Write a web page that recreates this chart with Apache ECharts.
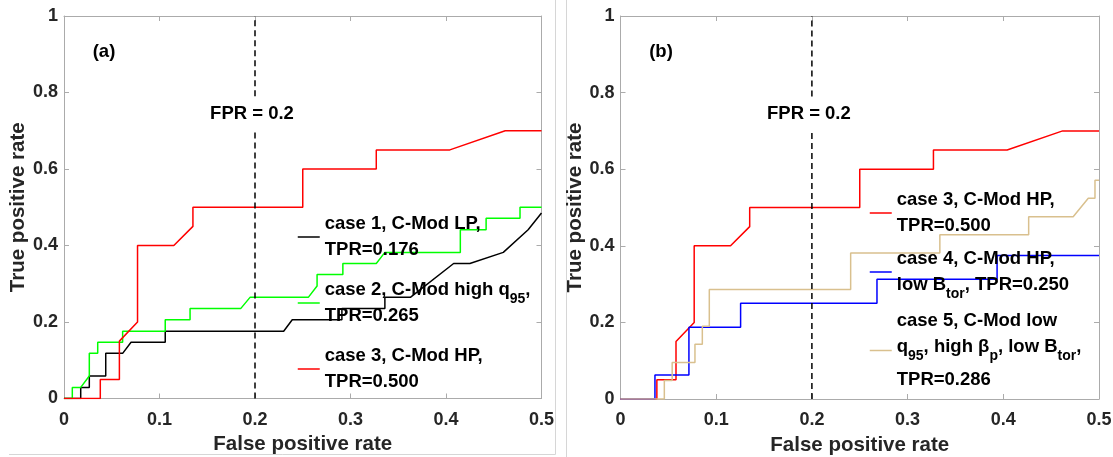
<!DOCTYPE html>
<html>
<head>
<meta charset="utf-8">
<script src="https://cdn.jsdelivr.net/npm/echarts@6/dist/echarts.min.js"></script>
<style>
  html, body { margin: 0; padding: 0; background: #ffffff; }
  #chart { width: 1113px; height: 457px; }
</style>
</head>
<body>
<div id="chart"></div>
<script>
// ROC curves as [false positive rate, true positive rate] vertices
const case1 = [[0,0],[0.0175,0],[0.0175,0.029],[0.0265,0.029],[0.0265,0.059],[0.0437,0.059],[0.0437,0.118],
  [0.0614,0.118],[0.0702,0.147],[0.106,0.147],[0.106,0.176],[0.230,0.176],[0.239,0.206],[0.291,0.206],
  [0.291,0.235],[0.336,0.235],[0.336,0.265],[0.363,0.265],[0.408,0.353],[0.425,0.353],[0.460,0.382],
  [0.486,0.441],[0.5,0.485]];
const case2 = [[0,0],[0.0087,0],[0.0087,0.029],[0.0175,0.029],[0.0265,0.059],[0.0265,0.118],[0.0353,0.118],
  [0.0353,0.147],[0.0614,0.147],[0.0614,0.176],[0.106,0.176],[0.106,0.206],[0.132,0.206],[0.132,0.235],
  [0.185,0.235],[0.195,0.265],[0.256,0.265],[0.265,0.294],[0.265,0.324],[0.292,0.324],[0.292,0.353],
  [0.327,0.353],[0.336,0.382],[0.415,0.382],[0.415,0.441],[0.442,0.441],[0.442,0.471],[0.4775,0.471],
  [0.4775,0.5],[0.5,0.5]];
const case3 = [[0,0],[0.038,0],[0.038,0.05],[0.058,0.05],[0.058,0.15],[0.077,0.2],[0.077,0.4],[0.115,0.4],
  [0.135,0.45],[0.135,0.5],[0.25,0.5],[0.25,0.6],[0.327,0.6],[0.327,0.65],[0.404,0.65],[0.462,0.7],[0.5,0.7]];
const case4 = [[0,0],[0.036,0],[0.036,0.0625],[0.0715,0.0625],[0.0715,0.1875],[0.1255,0.1875],[0.1255,0.25],
  [0.268,0.25],[0.268,0.3125],[0.3935,0.3125],[0.3935,0.375],[0.5,0.375]];
const case5 = [[0,0],[0.0458,0],[0.0458,0.048],[0.054,0.048],[0.054,0.095],[0.0778,0.095],[0.0778,0.143],
  [0.0855,0.143],[0.0855,0.19],[0.0928,0.19],[0.0928,0.286],[0.2405,0.286],[0.2405,0.381],[0.3337,0.381],
  [0.3337,0.429],[0.4265,0.429],[0.4265,0.476],[0.473,0.476],[0.4888,0.524],[0.4958,0.524],[0.4958,0.571],
  [0.5,0.571]];

// Tick labels and the FPR operating point
const xTicks = ['0', '0.1', '0.2', '0.3', '0.4', '0.5'];
const yTicks = ['0', '0.2', '0.4', '0.6', '0.8', '1'];
const fprCut = 0.2;

const caseText = {
  'case 1': 'case 1, C-Mod LP,\nTPR={v}',
  'case 2': 'case 2, C-Mod high q{sub|95},\nTPR={v}',
  'case 3': 'case 3, C-Mod HP,\nTPR={v}',
  'case 4': 'case 4, C-Mod HP,\nlow B{sub|tor}, TPR={v}',
  'case 5': 'case 5, C-Mod low\nq{sub|95}, high β{sub|p}, low B{sub|tor},\n{l3|TPR={v}}'
};
const curves = { 'case 1': case1, 'case 2': case2, 'case 3': case3, 'case 4': case4, 'case 5': case5 };
const colors = { 'case 1': '#000000', 'case 2': '#00ff00', 'case 3': '#ff0000', 'case 4': '#0000ff', 'case 5': '#d9c08e' };

function tprAt(curve, x) {
  let y = curve[0][1];
  for (let i = 1; i < curve.length; i++) {
    const a = curve[i - 1], b = curve[i];
    if (b[0] > x) {
      if (a[0] <= x) y = a[1] + (b[1] - a[1]) * (x - a[0]) / (b[0] - a[0]);
      break;
    }
    y = b[1];
  }
  return y;
}
function legendLabel(name) {
  return caseText[name].replace('{v}', tprAt(curves[name], fprCut).toFixed(3));
}

const FONT = "'Liberation Sans', Arial, Helvetica, sans-serif";
const FRAME = '#ababab';
const grids = [
  { left: 64, top: 16, width: 477.5, height: 382.5, outerBoundsMode: 'none', containLabel: false },
  { left: 620.5, top: 16, width: 478.5, height: 383, outerBoundsMode: 'none', containLabel: false }
];

function xAxisPair(g) {
  const base = {
    gridIndex: g, type: 'value', min: 0, max: 0.5, interval: 0.1,
    axisLine: { show: true, onZero: false, lineStyle: { color: FRAME, width: 1 } },
    axisTick: { show: true, inside: true, length: 5, lineStyle: { color: FRAME } },
    splitLine: { show: false }
  };
  return [
    Object.assign({}, base, {
      position: 'bottom',
      axisLabel: { margin: 12.5, fontSize: 18, fontWeight: 'bold', color: '#262626', fontFamily: FONT,
        formatter: (v) => xTicks[Math.round(v * 10)] },
      name: 'False positive rate', nameLocation: 'middle', nameGap: 27.5,
      nameTextStyle: { fontSize: 20.5, fontWeight: 'bold', color: '#262626', fontFamily: FONT }
    }),
    Object.assign({}, base, { position: 'top', axisLabel: { show: false } })
  ];
}
function yAxisPair(g) {
  const base = {
    gridIndex: g, type: 'value', min: 0, max: 1, interval: 0.2,
    axisLine: { show: true, onZero: false, lineStyle: { color: FRAME, width: 1 } },
    axisTick: { show: true, inside: true, length: 5, lineStyle: { color: FRAME } },
    splitLine: { show: false }
  };
  return [
    Object.assign({}, base, {
      position: 'left',
      axisLabel: { margin: 6, fontSize: 18, fontWeight: 'bold', color: '#262626', fontFamily: FONT,
        formatter: (v) => yTicks[Math.round(v * 5)] },
      name: 'True positive rate', nameLocation: 'middle', nameGap: 31,
      nameTextStyle: { fontSize: 20.5, fontWeight: 'bold', color: '#262626', fontFamily: FONT }
    }),
    Object.assign({}, base, { position: 'right', axisLabel: { show: false } })
  ];
}

function curveSeries(name, g) {
  return {
    type: 'line', name: name, xAxisIndex: g * 2, yAxisIndex: g * 2,
    data: curves[name], symbol: 'none', clip: true,
    lineStyle: { color: colors[name], width: 1.5 },
    itemStyle: { color: colors[name] },
    emphasis: { disabled: true }
  };
}
// dashed marker at FPR = 0.2, broken where its caption sits
function cutSeries(g) {
  return {
    type: 'line', xAxisIndex: g * 2, yAxisIndex: g * 2, symbol: 'none',
    data: [[fprCut, 0], [fprCut, 0.70], [fprCut, '-'], [fprCut, 0.79], [fprCut, 1]],
    lineStyle: { color: '#000000', width: 1.5, type: [6, 4] },
    emphasis: { disabled: true }, z: 5
  };
}

const legendText = {
  fontSize: 18.5, fontWeight: 'bold', color: '#000000', fontFamily: FONT, lineHeight: 26,
  rich: {
    sub: { fontSize: 14, fontWeight: 'bold', fontFamily: FONT, color: '#000000', padding: [18, 0, 0, 0] },
    l3: { fontSize: 18.5, fontWeight: 'bold', fontFamily: FONT, color: '#000000', lineHeight: 33, padding: [6, 0, 0, 0] }
  }
};
function legendFor(name, left, top) {
  return {
    data: [name], left: left, top: top, padding: 0, itemWidth: 22, itemHeight: 10,
    selectedMode: false, formatter: legendLabel, textStyle: legendText,
    lineStyle: { width: 1.5 },
    itemStyle: { opacity: 0, borderWidth: 0 }
  };
}

const chart = echarts.init(document.getElementById('chart'), null, { renderer: 'canvas' });
chart.setOption({
  animation: false,
  backgroundColor: '#ffffff',
  grid: grids,
  xAxis: [...xAxisPair(0), ...xAxisPair(1)],
  yAxis: [...yAxisPair(0), ...yAxisPair(1)],
  legend: [
    legendFor('case 1', 297, 211),
    legendFor('case 2', 297, 277),
    legendFor('case 3', 297, 343),
    legendFor('case 3', 869, 187),
    legendFor('case 4', 869, 246),
    legendFor('case 5', 869, 308)
  ],
  series: [
    curveSeries('case 1', 0), curveSeries('case 2', 0), curveSeries('case 3', 0), cutSeries(0),
    curveSeries('case 3', 1), curveSeries('case 4', 1), curveSeries('case 5', 1), cutSeries(1)
  ]
});

// captions placed through the axes' own coordinate conversion
const captionFont = 'bold 18.5px ' + FONT;
const graphics = [];
[0, 1].forEach((g) => {
  const p = chart.convertToPixel({ xAxisIndex: g * 2, yAxisIndex: g * 2 }, [fprCut, 0.745]);
  graphics.push({ type: 'text', x: p[0] - 3, y: p[1], z: 10,
    style: { text: 'FPR = ' + fprCut, font: captionFont, fill: '#000000', align: 'center', verticalAlign: 'middle' } });
});
graphics.push(
  { type: 'text', x: 104, y: 52, style: { text: '(a)', font: captionFont, fill: '#000000', align: 'center', verticalAlign: 'middle' } },
  { type: 'text', x: 661, y: 52, style: { text: '(b)', font: captionFont, fill: '#000000', align: 'center', verticalAlign: 'middle' } },
  { type: 'line', shape: { x1: 555.5, y1: 0, x2: 555.5, y2: 454.5 }, style: { stroke: '#d6d6d6', lineWidth: 1 } },
  { type: 'line', shape: { x1: 9, y1: 454.5, x2: 555.5, y2: 454.5 }, style: { stroke: '#d6d6d6', lineWidth: 1 } },
  { type: 'line', shape: { x1: 566.5, y1: 0, x2: 566.5, y2: 457 }, style: { stroke: '#d6d6d6', lineWidth: 1 } }
);
chart.setOption({ graphic: graphics });
</script>
</body>
</html>
